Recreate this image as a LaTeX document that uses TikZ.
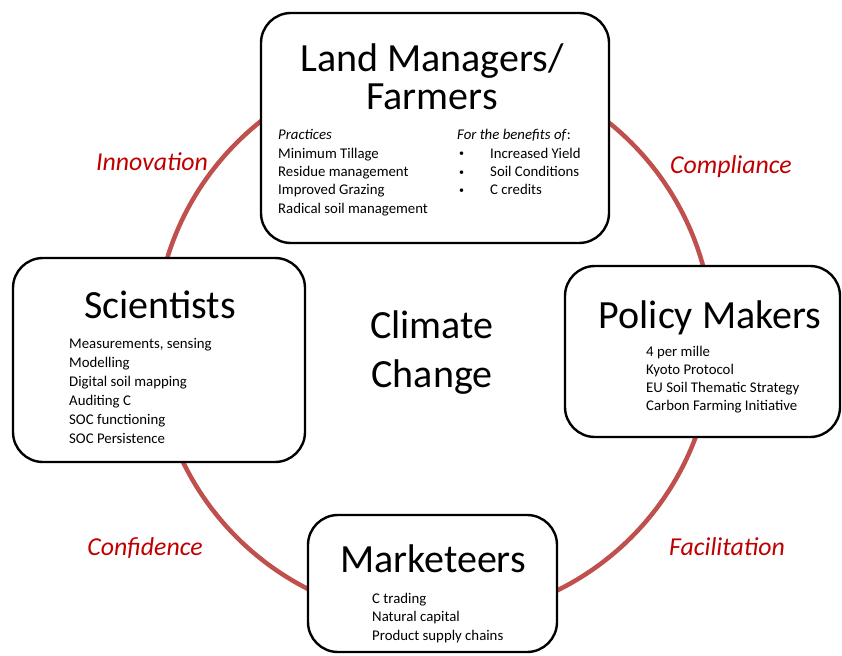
\documentclass[tikz,border=0pt]{standalone}
\usepackage{fontspec}
\setmainfont{Carlito}
\usetikzlibrary{positioning}
\definecolor{ringred}{HTML}{C0504D}
\definecolor{labelred}{HTML}{C00000}
\tikzset{
  group/.style={draw=black, line width=2.4pt, rounded corners=30pt, fill=white, inner sep=0},
  title/.style={font=\fontsize{40}{44}\selectfont, anchor=base, inner sep=0},
  item/.style={font=\fontsize{14.8}{18}\selectfont, anchor=base west, inner sep=0},
  flow/.style={font=\fontsize{25.8}{30}\selectfont\itshape, text=labelred, anchor=base, inner sep=0}
}

\begin{document}
\begin{tikzpicture}[x=1pt, y=-1pt]
            \useasboundingbox (0,0) rectangle (842,655);
            \node[circle, draw=ringred, line width=4.5pt, minimum size=558pt, inner sep=0] (ring) at (434,340) {};

            \node[group, minimum width=348pt, minimum height=230pt] (land) at (435,128) {};
            \node[group, minimum width=292pt, minimum height=204pt] (sci) at (159,360) {};
            \node[group, minimum width=275pt, minimum height=171pt] (pol) at (702.5,351.5) {};
            \node[group, minimum width=249pt, minimum height=137pt] (mkt) at (432.5,583.5) {};

            \node[title] (landA) at (432,72) {Land Managers/};
            \node[title] (landB) at (432,110) {Farmers};
            \node[item] (prac) at (278,140) {\itshape Practices};
            \foreach \t [count=\i] in {Minimum Tillage, Residue management, Improved Grazing, Radical soil management}{
                \node[item] (prac\i) at (278,140+18.3*\i) {\t};
            }
            \node[item] (bene) at (457,140) {\textit{For the benefits of}:};
            \foreach \t [count=\i] in {Increased Yield, Soil Conditions, C credits}{
                \node[item, font=\fontsize{10}{12}\selectfont] (dot\i) at (459,138.5+18.3*\i) {•};
                \node[item] (bene\i) at (490,140+18.3*\i) {\t};
            }

            \node[title] (sciT) at (160,318) {Scientists};
            \foreach \t [count=\i from 0] in {{Measurements, sensing}, Modelling, Digital soil mapping, Auditing C, SOC functioning, SOC Persistence}{
                \node[item] (sci\i) at (69,348+19*\i) {\t};
            }

            \node[title] (polT) at (710,328) {Policy Makers};
            \foreach \t [count=\i from 0] in {4 per mille, Kyoto Protocol, EU Soil Thematic Strategy, Carbon Farming Initiative}{
                \node[item] (pol\i) at (646,356+18.3*\i) {\t};
            }

            \node[title] (mktT) at (433,572) {Marketeers};
            \foreach \t [count=\i from 0] in {C trading, Natural capital, Product supply chains}{
                \node[item] (mkt\i) at (372,603+18.5*\i) {\t};
            }

            \node[title] (clim) at (432,338) {Climate};
            \node[title] (chg) at (432,387) {Change};

            \node[flow] (inno) at (152,171) {Innovation};
            \node[flow] (comp) at (731,173) {Compliance};
            \node[flow] (conf) at (145,555) {Confidence};
            \node[flow] (faci) at (727,555) {Facilitation};
        \end{tikzpicture}
\end{document}
